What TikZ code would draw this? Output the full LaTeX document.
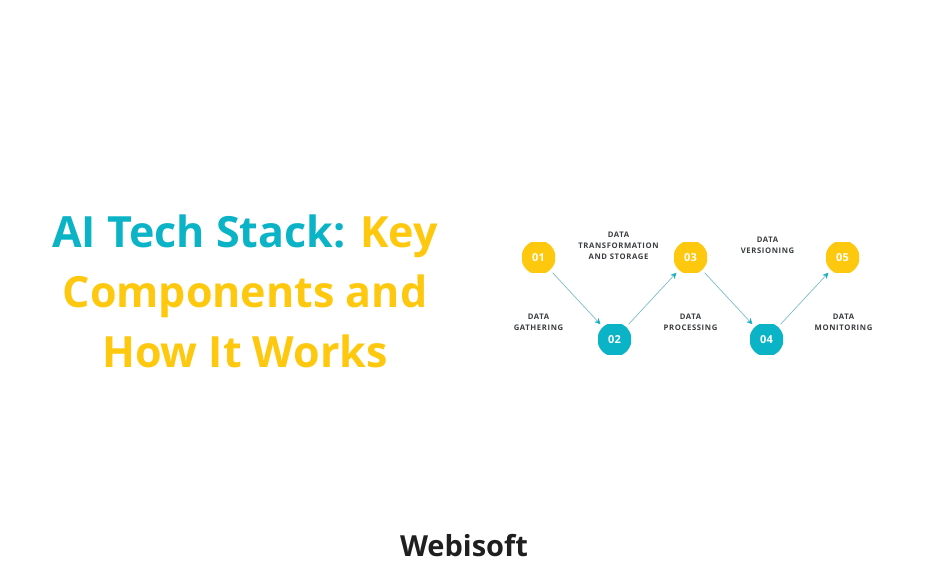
\documentclass[tikz,border=0pt]{standalone}
\usepackage{fontspec}
\setmainfont{Open Sans}
\newfontfamily\labelfont[LetterSpace=8]{Open Sans}
\usetikzlibrary{arrows.meta,positioning}
\definecolor{stackteal}{HTML}{0AB3C6}
\definecolor{stackyellow}{HTML}{FDC80D}
\definecolor{arrowteal}{HTML}{7CBFC6}
\definecolor{headteal}{HTML}{1FB0BF}
\definecolor{labelgray}{HTML}{3A3D40}
\definecolor{brandblack}{HTML}{1F1F1F}

\begin{document}
\begin{tikzpicture}[x=1pt,y=1pt,->,>={Stealth[length=6pt,width=6pt,color=headteal]},auto,node distance=76pt and 76pt,on grid,
  step node/.style={rectangle,minimum width=33pt,minimum height=30pt,inner sep=0pt,text=white,font=\bfseries\fontsize{11}{11}\selectfont},
  yellow node/.style={step node,path picture={\fill[stackyellow] (path picture bounding box.center) circle (17pt);}},
  teal node/.style={step node,path picture={\fill[stackteal] (path picture bounding box.center) circle (17pt);}},
  step label/.style={align=center,text=labelgray,font=\labelfont\bfseries\fontsize{7.7}{11}\selectfont}]

  \useasboundingbox (0,0) rectangle (928,580);

  \node[align=center,text=stackyellow,font=\bfseries\fontsize{43}{60}\selectfont] (title) at (245,289)
    {\textcolor{stackteal}{AI Tech Stack:} Key\\Components and\\How It Works};
  \node[text=brandblack,font=\bfseries\fontsize{29}{29}\selectfont] (brand) at (464,34) {Webisoft};

  \node[yellow node] (01) at (538.5,322.5) {01};
  \node[teal node] (02) [below right=82pt and 76pt of 01] {02};
  \node[yellow node] (03) [above right=82pt and 76pt of 02] {03};
  \node[teal node] (04) [below right=82pt and 76pt of 03] {04};
  \node[yellow node] (05) [above right=82pt and 76pt of 04] {05};

  \node[step label] (gathering) [below=65pt of 01] {DATA\\GATHERING};
  \node[step label] (transformation) [above right=12pt and 80pt of 01] {DATA\\TRANSFORMATION\\AND STORAGE};
  \node[step label] (processing) [above right=17pt and 76pt of 02] {DATA\\PROCESSING};
  \node[step label] (versioning) [above right=12pt and 77pt of 03] {DATA\\VERSIONING};
  \node[step label] (monitoring) [above right=17pt and 77pt of 04] {DATA\\MONITORING};

  \path[draw=arrowteal,line width=0.7pt]
    (01) edge (02)
    (02) edge (03)
    (03) edge (04)
    (04) edge (05);

\end{tikzpicture}
\end{document}
